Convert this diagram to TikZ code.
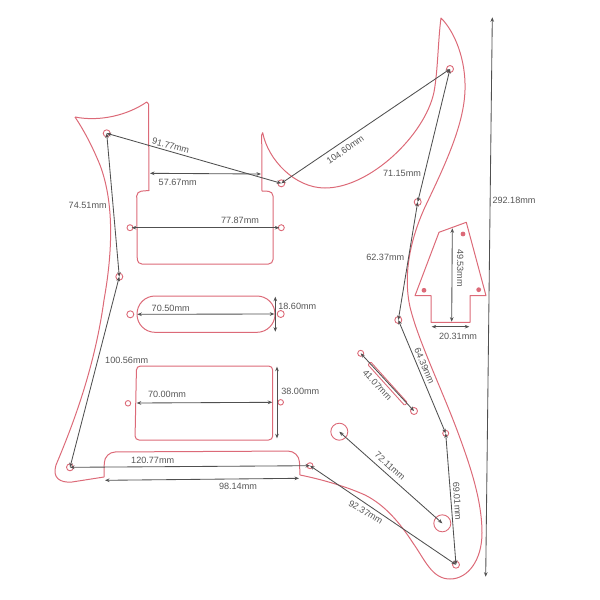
\documentclass[tikz,border=0pt]{standalone}
\usepackage{fontspec}
\setmainfont{Liberation Sans}
\usetikzlibrary{arrows.meta}
\definecolor{redline}{HTML}{DC6A78}
\definecolor{dimline}{HTML}{505050}
\definecolor{dimtext}{HTML}{555555}
\tikzset{
  outline/.style={draw=redline,line width=1pt,line join=round},
  hole/.style={circle,draw=redline,line width=0.9pt,inner sep=0pt,minimum size=#1},
  reddot/.style={circle,fill=redline,inner sep=0pt,minimum size=4.8pt},
  dimen/.style={draw=dimline,line width=0.85pt,{Stealth[length=4.5pt,width=3.6pt]}-{Stealth[length=4.5pt,width=3.6pt]}},
  lab/.style={text=dimtext,font=\fontsize{9.1}{10}\selectfont,inner sep=0pt},
}
\begin{document}
\begin{tikzpicture}[x=1pt,y=-1pt]
\useasboundingbox (0,0) rectangle (600,600);
% body outline
\draw[outline] (75,117) .. controls (100,122) and (128,115) .. (146.7,102) -- (148.5,104) -- (149,190.5);
\draw[outline,rounded corners=4.5pt] (149,190.5) -- (136.7,191.5) -- (137.3,264) -- (273,264) -- (273,191.5) -- (262,191);
\draw[outline] (262,191) -- (261.7,135) -- (262.7,132.7)
  .. controls (268,160) and (295,188) .. (325,188)
  .. controls (370,188) and (425,135) .. (434,92)
  .. controls (438,70) and (438,40) .. (441,18)
  .. controls (455,32) and (466,60) .. (465,90)
  .. controls (464,125) and (445,165) .. (425,207)
  .. controls (410,240) and (403,275) .. (410,307)
  .. controls (418,340) and (440,385) .. (457,430)
  .. controls (470,465) and (482,500) .. (482,533)
  .. controls (482,560) and (468,579) .. (450,579)
  .. controls (432,579) and (425,560) .. (413,543)
  .. controls (400,523) and (385,505) .. (365,495)
  .. controls (345,486) and (320,479) .. (300,475);
\draw[outline,rounded corners=11pt] (300,475) -- (299,451) -- (104.5,452) -- (104,477);
\draw[outline] (104,477) -- (72,482)
  .. controls (60,483) and (52,478) .. (56,465)
  .. controls (75,420) and (95,365) .. (104,300)
  .. controls (112,255) and (115,205) .. (100,165)
  .. controls (93,148) and (85,132) .. (75,117);
% pickups
\draw[outline,rounded corners=18pt] (137,296) rectangle (275,332.3);
\draw[outline,rounded corners=4pt] (136.5,366) -- (272.7,366) -- (272.7,440) -- (135,440) -- cycle;
% truss cover
\draw[outline] (439,232.3) -- (466.3,222.3) -- (486,295.7) -- (470,295.7) -- (470,322.3) -- (431,322.3) -- (431,295.7) -- (415,295.7) -- cycle;
\node[reddot] (d1) at (463,234) {};
\node[reddot] (d2) at (424,290.3) {};
\node[reddot] (d3) at (478.7,289.7) {};
% slot
\draw[outline,line width=0.9pt,rounded corners=1pt] (368,364.8) -- (370.6,361.8) -- (407.3,402.5) -- (404.7,405.5) -- cycle;
% holes
\node[hole=7pt] (h1) at (106.7,133.3) {};
\node[hole=7pt] (h2) at (119.3,276.7) {};
\node[hole=7pt] (h3) at (281.3,183.3) {};
\node[hole=7pt] (h4) at (450,69) {};
\node[hole=7pt] (h5) at (417.7,202) {};
\node[hole=7pt] (h6) at (398.3,320) {};
\node[hole=6pt] (h7) at (445.7,433.3) {};
\node[hole=7pt] (h8) at (456,564.7) {};
\node[hole=6pt] (h9) at (310,465.7) {};
\node[hole=7pt] (h10) at (70,467.3) {};
\node[hole=6pt] (p1l) at (130,227.7) {};
\node[hole=6pt] (p1r) at (281.3,227.7) {};
\node[hole=7pt] (p2l) at (130.3,314.3) {};
\node[hole=7pt] (p2r) at (280.7,314) {};
\node[hole=5.5pt] (p3l) at (128,403.3) {};
\node[hole=5.5pt] (p3r) at (280.7,402.3) {};
\node[hole=17pt] (c1) at (339.3,431.7) {};
\node[hole=17pt] (c2) at (442.3,523.3) {};
\node[hole=6pt] (s1) at (360.7,353.3) {};
\node[hole=7pt] (s2) at (414,411) {};
% free ends of dimension lines
\coordinate (a1) at (150,173.3); \coordinate (a2) at (261,174);
\coordinate (b1) at (131.7,227.7); \coordinate (b2) at (279.3,227.7);
\coordinate (e1) at (137.3,314.3); \coordinate (e2) at (274.3,314);
\coordinate (f1) at (275.3,296.7); \coordinate (f2) at (275.3,331.7);
\coordinate (g1) at (136.7,403); \coordinate (g2) at (272.3,402.3);
\coordinate (k1) at (277,366.7); \coordinate (k2) at (277,438.3);
\coordinate (m1) at (105,480.3); \coordinate (m2) at (299,478.3);
\coordinate (t1) at (492.3,17.3); \coordinate (t2) at (485.7,576.7);
\coordinate (n1) at (452.3,228.3); \coordinate (n2) at (451.7,321.7);
\coordinate (o1) at (431.7,326.7); \coordinate (o2) at (469.3,326.7);
% dimension lines
\draw[dimen] (h1.center) -- (h3.center);
\draw[dimen] (a1) -- (a2);
\draw[dimen] (b1) -- (b2);
\draw[dimen] (h1.center) -- (h2.center);
\draw[dimen] (h2.center) -- (h10.center);
\draw[dimen] (e1) -- (e2);
\draw[dimen] (f1) -- (f2);
\draw[dimen] (g1) -- (g2);
\draw[dimen] (k1) -- (k2);
\draw[dimen] (h10.center) -- (h9.center);
\draw[dimen] (m1) -- (m2);
\draw[dimen] (h9.center) -- (h8.center);
\draw[dimen] (c1.center) -- (c2.center);
\draw[dimen] (h7.center) -- (h8.center);
\draw[dimen] (h6.center) -- (h7.center);
\draw[dimen] (h5.center) -- (h6.center);
\draw[dimen] (h4.center) -- (h5.center);
\draw[dimen] (h3.center) -- (h4.center);
\draw[dimen] (t1) -- (t2);
\draw[dimen] (n1) -- (n2);
\draw[dimen] (o1) -- (o2);
\draw[dimen] (s1.center) -- (s2.center);
% labels
\node[lab,rotate=-15] (l1) at (170.7,145.7) {91.77mm};
\node[lab] (l2) at (177.7,182.7) {57.67mm};
\node[lab] (l3) at (240,220.7) {77.87mm};
\node[lab] (l4) at (87.7,205) {74.51mm};
\node[lab] (l5) at (126.7,360) {100.56mm};
\node[lab] (l6) at (170.7,308.3) {70.50mm};
\node[lab] (l7) at (297.3,306) {18.60mm};
\node[lab] (l8) at (167,394.7) {70.00mm};
\node[lab] (l9) at (300.3,391.7) {38.00mm};
\node[lab] (l10) at (152.7,460.3) {120.77mm};
\node[lab] (l11) at (238,486.7) {98.14mm};
\node[lab,rotate=-31] (l12) at (365.7,512.3) {92.37mm};
\node[lab,rotate=-42] (l13) at (390,466) {72.11mm};
\node[lab,rotate=-86] (l14) at (457.3,501) {69.01mm};
\node[lab,rotate=-67] (l15) at (424.5,366) {64.39mm};
\node[lab] (l16) at (385.3,257.3) {62.37mm};
\node[lab] (l17) at (402,173.3) {71.15mm};
\node[lab,rotate=35] (l18) at (345.3,150) {104.60mm};
\node[lab] (l19) at (514,200) {292.18mm};
\node[lab,rotate=-90] (l20) at (460.3,268) {49.53mm};
\node[lab] (l21) at (458,336.3) {20.31mm};
\node[lab,rotate=-47] (l22) at (377.3,385) {41.07mm};
\end{tikzpicture}
\end{document}
